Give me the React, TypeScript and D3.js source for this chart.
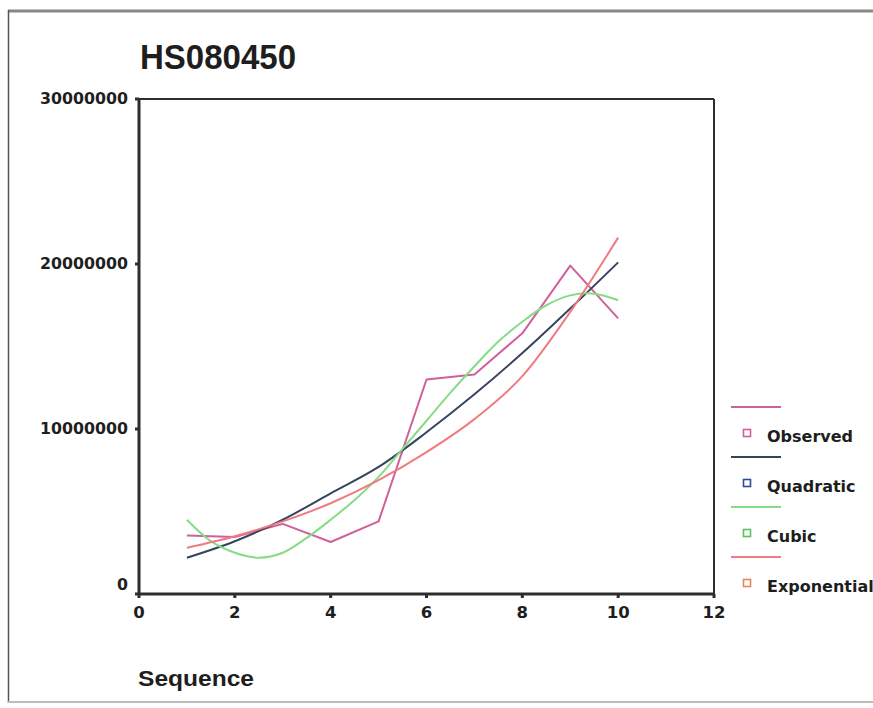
import React from "react";
import * as d3 from "d3";

const seq = [1, 2, 3, 4, 5, 6, 7, 8, 9, 10];
const observed = [3.55e6, 3.45e6, 4.25e6, 3.15e6, 4.4e6, 13.0e6, 13.3e6, 15.8e6, 19.9e6, 16.7e6];
const quadratic = [2.2e6, 3.2e6, 4.5e6, 6.1e6, 7.7e6, 9.8e6, 12.1e6, 14.6e6, 17.3e6, 20.1e6];
const exponential = [2.8e6, 3.5e6, 4.4e6, 5.5e6, 6.9e6, 8.6e6, 10.6e6, 13.2e6, 17.1e6, 21.6e6];
const cubicX = [1, 1.5, 2, 2.5, 3, 3.5, 4, 4.5, 5, 5.5, 6, 6.5, 7, 7.5, 8, 8.5, 9, 9.5, 10];
const cubic = [4.5e6, 3.2e6, 2.5e6, 2.2e6, 2.5e6, 3.4e6, 4.5e6, 5.7e6, 7.1e6, 8.8e6, 10.5e6, 12.2e6, 13.8e6, 15.3e6, 16.5e6, 17.5e6, 18.1e6, 18.2e6, 17.8e6];

const xTicks = [0, 2, 4, 6, 8, 10, 12];
const yTicks = [0, 10000000, 20000000, 30000000];
const legendLabels = ["Observed", "Quadratic", "Cubic", "Exponential"];
const legendLineColors = ["#d0609c", "#36445f", "#86dc86", "#f07c82"];
const legendMarkerColors = ["#d0609c", "#2e4c9c", "#5cc05c", "#e8845a"];

const title = "HS080450";
const xLabel = "Sequence";

export default function App() {
  const W = 873, H = 708;
  const x = d3.scaleLinear().domain([0, 12]).range([139, 714]);
  const y = d3.scaleLinear().domain([0, 30000000]).range([594, 99]);
  const lineLin = d3.line<[number, number]>().x(d => x(d[0])).y(d => y(d[1]));
  const lineSmooth = d3.line<[number, number]>().x(d => x(d[0])).y(d => y(d[1])).curve(d3.curveMonotoneX);
  const lineCubic = d3.line<[number, number]>().x(d => x(d[0])).y(d => y(d[1])).curve(d3.curveCatmullRom);

  const series = [
    { d: lineLin(seq.map((s, i) => [s, observed[i]] as [number, number])), c: legendLineColors[0] },
    { d: lineSmooth(seq.map((s, i) => [s, quadratic[i]] as [number, number])), c: legendLineColors[1] },
    { d: lineCubic(cubicX.map((s, i) => [s, cubic[i]] as [number, number])), c: legendLineColors[2] },
    { d: lineSmooth(seq.map((s, i) => [s, exponential[i]] as [number, number])), c: legendLineColors[3] },
  ];

  const font = "'DejaVu Sans', sans-serif";
  const axisColor = "#2e2e2e";
  const textColor = "#1e1e1e";

  return (
    <svg width={W} height={H} style={{ position: "absolute", left: 0, top: 0, background: "#fff" }}>
      {/* outer frame */}
      <line x1={8} y1={11} x2={873} y2={11} stroke="#888" strokeWidth={3} />
      <line x1={8.5} y1={10} x2={8.5} y2={703} stroke="#555" strokeWidth={1.5} />
      <line x1={8} y1={702} x2={873} y2={702} stroke="#bbb" strokeWidth={2} />

      <text x={140} y={69} fontFamily="'Liberation Sans', Arial, sans-serif" fontWeight="bold" fontSize={35} textLength={156} lengthAdjust="spacingAndGlyphs" fill={textColor}>{title}</text>

      {/* plot frame */}
      <line x1={x(0)} y1={y(30000000)} x2={x(12)} y2={y(30000000)} stroke={axisColor} strokeWidth={2} />
      <line x1={x(12)} y1={y(30000000)} x2={x(12)} y2={y(0)} stroke={axisColor} strokeWidth={2} />
      <line x1={x(0)} y1={y(30000000) - 1} x2={x(0)} y2={y(0) + 1} stroke={axisColor} strokeWidth={3} />
      <line x1={x(0) - 1} y1={y(0)} x2={x(12) + 1} y2={y(0)} stroke={axisColor} strokeWidth={3} />

      {yTicks.map(t => (
        <g key={"y" + t}>
          <line x1={x(0) - 4} x2={x(0)} y1={y(t)} y2={y(t)} stroke={axisColor} strokeWidth={3} />
          <text x={128} y={y(t) + (t === 0 ? -4 : 5)} textAnchor="end" fontFamily={font} fontWeight="bold" fontSize={15.8} fill={textColor}>{t}</text>
        </g>
      ))}
      {xTicks.map(t => (
        <g key={"x" + t}>
          <line x1={x(t)} x2={x(t)} y1={y(0)} y2={y(0) + 4} stroke={axisColor} strokeWidth={3} />
          <text x={x(t)} y={y(0) + 24} textAnchor="middle" fontFamily={font} fontWeight="bold" fontSize={16.5} fill={textColor}>{t}</text>
        </g>
      ))}

      <text x={138} y={686} fontFamily="'Liberation Sans', Arial, sans-serif" fontWeight="bold" fontSize={22} textLength={116} lengthAdjust="spacingAndGlyphs" fill={textColor}>{xLabel}</text>

      {series.map((s, i) => (
        <path key={i} d={s.d || ""} fill="none" stroke={s.c} strokeWidth={2} strokeLinejoin="round" />
      ))}

      {legendLabels.map((l, i) => {
        const ly = 407 + i * 50;
        return (
          <g key={l}>
            <line x1={731} x2={781} y1={ly} y2={ly} stroke={legendLineColors[i]} strokeWidth={2} />
            <rect x={743.5} y={ly + 22.5} width={7} height={7} fill="none" stroke={legendMarkerColors[i]} strokeWidth={1.6} />
            <text x={767} y={ly + 35} fontFamily={font} fontWeight="bold" fontSize={16} fill={textColor}>{l}</text>
          </g>
        );
      })}
    </svg>
  );
}
